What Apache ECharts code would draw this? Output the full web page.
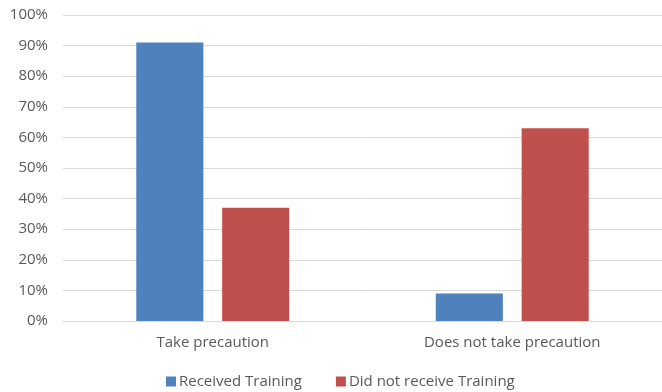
<!DOCTYPE html>
<html><head><meta charset="utf-8">
<script src="https://cdn.jsdelivr.net/npm/echarts@6/dist/echarts.min.js"></script>
<style>html,body{margin:0;padding:0;background:#fff}#c{width:662px;height:392px}</style>
</head><body><div id="c"></div>
<script>
const categories = ["Take precaution", "Does not take precaution"];
const receivedTraining = [91, 9];
const didNotReceive = [37, 63];
const seriesNames = ["Received Training", "Did not receive Training"];

const chart = echarts.init(document.getElementById('c'), null, {renderer: 'canvas'});
const txt = {color: '#595959', fontFamily: 'Open Sans, Liberation Sans, sans-serif', fontSize: 15};
chart.setOption({
  animation: false,
  grid: {left: 63, right: -2, top: 15, bottom: 71, containLabel: false},
  legend: {
    bottom: -2, left: 161, itemWidth: 10, itemHeight: 10, itemGap: 34,
    icon: 'rect', textStyle: Object.assign({}, txt, {padding: [0, 0, 0, -2]}),
    data: seriesNames
  },
  xAxis: {
    type: 'category', data: categories,
    axisLine: {lineStyle: {color: '#D9D9D9'}}, axisTick: {show: false},
    axisLabel: Object.assign({}, txt, {margin: 14})
  },
  yAxis: {
    type: 'value', min: 0, max: 100, interval: 10,
    axisLabel: Object.assign({}, txt, {formatter: '{value}%', margin: 15}),
    splitLine: {lineStyle: {color: '#D9D9D9', width: 1}},
    axisLine: {show: false}, axisTick: {show: false}
  },
  series: [
    {name: seriesNames[0], type: 'bar', data: receivedTraining, barWidth: '22.4%', barGap: '28%', itemStyle: {color: '#4F81BD'}},
    {name: seriesNames[1], type: 'bar', data: didNotReceive, barWidth: '22.4%', itemStyle: {color: '#C0504D'}}
  ]
});
</script></body></html>
